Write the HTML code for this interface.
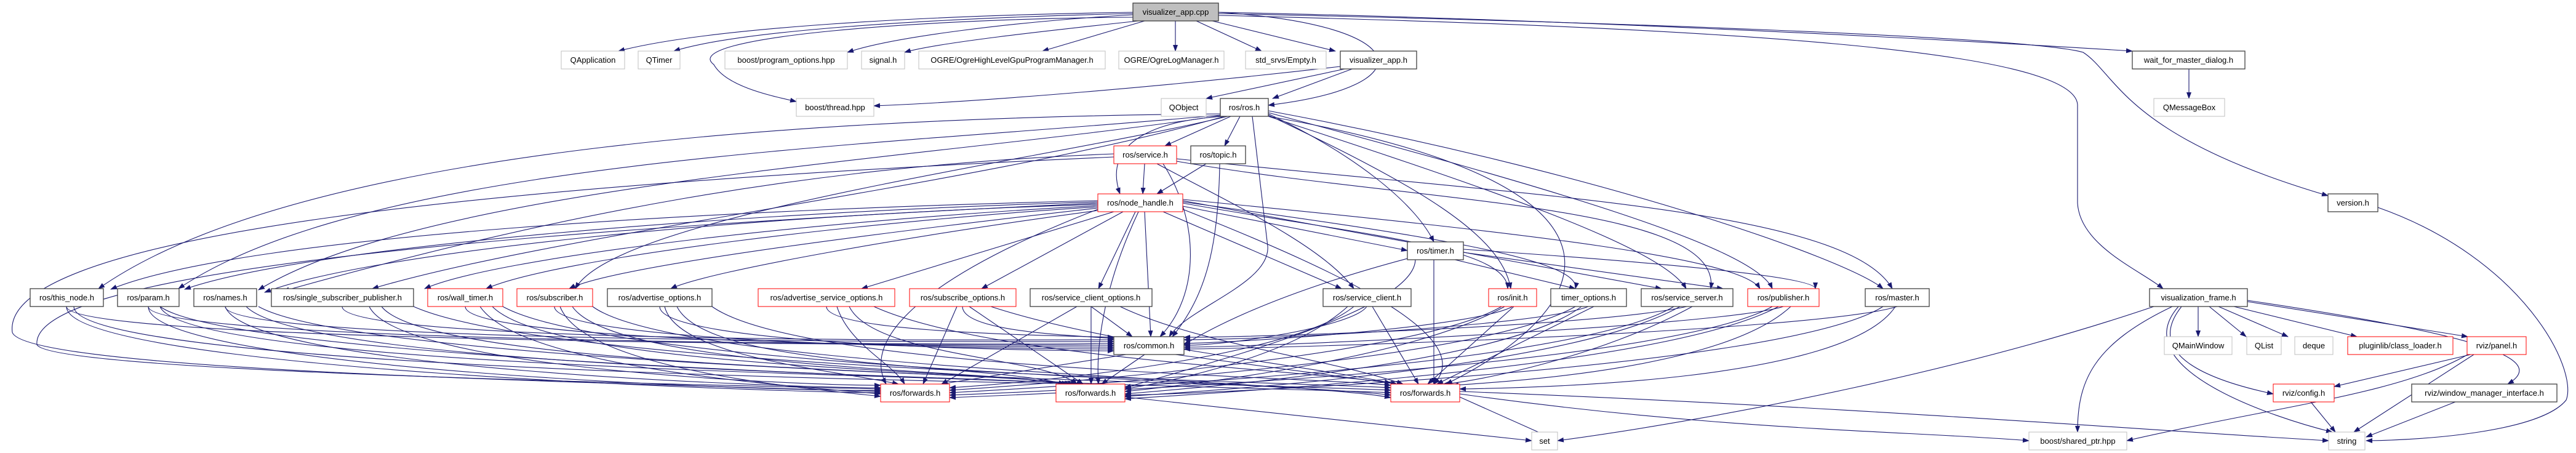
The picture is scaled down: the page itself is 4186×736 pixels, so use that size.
<!DOCTYPE html>
<html><head><meta charset="utf-8"><style>
html,body{margin:0;padding:0;background:#fff}
svg{display:block}
.e{fill:none;stroke:#191970;stroke-width:1.1;marker-end:url(#a)}
.n{fill:#fff;stroke-width:1}
.g{stroke:#bfbfbf}.b{stroke:#404040;stroke-width:1.3}.r{stroke:#ff0000}
.c{fill:#bfbfbf;stroke:#404040;stroke-width:1.3}
text{font-family:"Liberation Sans",sans-serif;font-size:13px;fill:#000}
</style></head><body>
<svg width="4186" height="736" viewBox="0 0 4186 736" xmlns="http://www.w3.org/2000/svg">
<defs><marker id="a" markerUnits="userSpaceOnUse" markerWidth="11" markerHeight="8" refX="10" refY="4" orient="auto"><path d="M0,0 L11,4 L0,8 z" fill="#191970"/></marker></defs>
<g>
<path class="e" d="M1841,20 C1500,25 1150,45 1005,83"/>
<path class="e" d="M1841,22 C1500,30 1200,50 1095,83"/>
<path class="e" d="M1841,24 C1650,35 1450,60 1377,85"/>
<path class="e" d="M1850,34 C1700,50 1520,70 1470,85"/>
<path class="e" d="M1860,34 L1694,83"/>
<path class="e" d="M1910,34 L1910,83"/>
<path class="e" d="M1944,34 L2050,83"/>
<path class="e" d="M1970,34 L2170,83"/>
<path class="e" d="M1841,28 C1500,30 1100,60 1160,105 C1180,140 1250,155 1294,165"/>
<path class="e" d="M1980,20 C2300,40 2320,140 2061,171"/>
<path class="e" d="M1980,20 C2500,30 3100,60 3465,83"/>
<path class="e" d="M1980,22 C2600,35 3300,60 3385,85 C3440,120 3450,220 3783,318"/>
<path class="e" d="M1980,25 C2800,45 3370,80 3376,170 L3376,330 C3380,400 3480,440 3515,469"/>
<path class="e" d="M2178,108 C1900,140 1600,165 1420,172"/>
<path class="e" d="M2190,111 L1960,160"/>
<path class="e" d="M2200,111 L2068,160"/>
<path class="e" d="M3557,111 L3557,160"/>
<path class="e" d="M3864,337 C4100,420 4190,600 4170,650 C4130,700 3950,715 3845,716"/>
<path class="e" d="M2000,189 L1893,237"/>
<path class="e" d="M2015,189 L1990,237"/>
<path class="e" d="M1990,189 C1880,195 1790,230 1820,315"/>
<path class="e" d="M1983,185 C1400,190 500,230 160,469"/>
<path class="e" d="M1983,187 C1400,240 600,260 290,469"/>
<path class="e" d="M1983,188 C1500,260 700,300 420,471"/>
<path class="e" d="M1990,189 C1600,300 900,380 605,469"/>
<path class="e" d="M1995,189 C1700,260 1000,350 935,469"/>
<path class="e" d="M2061,185 C2200,250 2300,330 2330,393"/>
<path class="e" d="M2061,187 C2300,300 2440,380 2455,469"/>
<path class="e" d="M2061,189 C2400,300 2700,400 2740,469"/>
<path class="e" d="M2061,183 C2500,300 2850,400 2880,469"/>
<path class="e" d="M2061,180 C2600,280 3000,420 3060,469"/>
<path class="e" d="M2035,189 L2060,400 C2065,460 1930,500 1900,547"/>
<path class="e" d="M2061,189 C2700,300 2600,500 2350,624"/>
<path class="e" d="M1860,266 L1857,315"/>
<path class="e" d="M1890,266 C1950,360 1950,480 1885,547"/>
<path class="e" d="M1912,262 C2300,330 2800,330 2780,469"/>
<path class="e" d="M1912,258 C2500,320 3000,340 3075,469"/>
<path class="e" d="M1880,266 C2000,330 2150,400 2200,469"/>
<path class="e" d="M1810,250 C1300,270 900,350 460,473"/>
<path class="e" d="M1810,255 C800,300 0,380 20,540 C40,600 900,620 1431,636"/>
<path class="e" d="M1960,266 L1880,315"/>
<path class="e" d="M1982,266 C1980,400 1960,480 1905,547"/>
<path class="e" d="M1784,330 C700,380 50,450 60,560 C80,600 900,620 1431,632"/>
<path class="e" d="M1784,326 C1200,340 400,380 180,470"/>
<path class="e" d="M1784,328 C1200,345 500,400 300,470"/>
<path class="e" d="M1784,332 C1200,350 600,410 430,475"/>
<path class="e" d="M1784,334 C1300,360 800,420 690,469"/>
<path class="e" d="M1784,336 C1400,360 900,420 790,469"/>
<path class="e" d="M1784,338 C1500,370 1000,430 925,469"/>
<path class="e" d="M1784,342 C1500,380 1150,440 1090,469"/>
<path class="e" d="M1810,344 L1400,469"/>
<path class="e" d="M1825,344 L1595,469"/>
<path class="e" d="M1845,344 L1785,469"/>
<path class="e" d="M1860,344 L1870,547"/>
<path class="e" d="M1890,344 L2180,469"/>
<path class="e" d="M1922,335 L2287,407"/>
<path class="e" d="M1922,330 C2200,380 2450,400 2450,469"/>
<path class="e" d="M1922,328 C2300,380 2570,420 2560,469"/>
<path class="e" d="M1922,326 L2700,469"/>
<path class="e" d="M1922,324 C2500,380 2830,420 2860,469"/>
<path class="e" d="M1784,340 C1500,450 1400,550 1440,624"/>
<path class="e" d="M1850,344 C1800,450 1780,550 1785,624"/>
<path class="e" d="M1922,340 C2200,450 2400,550 2330,624"/>
<path class="e" d="M2360,421 L2560,469"/>
<path class="e" d="M2287,420 C2100,470 1990,520 1924,560"/>
<path class="e" d="M2330,421 L2330,624"/>
<path class="e" d="M2300,421 C2300,500 2000,580 1828,630"/>
<path class="e" d="M2378,410 L2800,469"/>
<path class="e" d="M2378,405 C2900,440 2950,460 2950,469"/>
<path class="e" d="M108,498 C108,560 1660,561 1810,561"/>
<path class="e" d="M108,498 C108,600 1280,638 1431,638"/>
<path class="e" d="M120,498 C120,600 1600,620 1760,624"/>
<path class="e" d="M241,498 C241,560 1660,561 1810,558"/>
<path class="e" d="M241,498 C241,600 1280,638 1431,634"/>
<path class="e" d="M260,498 C300,600 1600,610 1760,624"/>
<path class="e" d="M260,498 C400,600 2100,630 2260,638"/>
<path class="e" d="M366,498 C366,560 1660,555 1810,555"/>
<path class="e" d="M366,498 C400,600 1280,630 1431,630"/>
<path class="e" d="M400,498 C500,600 1600,610 1750,624"/>
<path class="e" d="M420,498 C600,600 2100,625 2260,634"/>
<path class="e" d="M556,498 C556,560 1660,552 1810,552"/>
<path class="e" d="M600,498 C650,600 1300,626 1431,626"/>
<path class="e" d="M620,498 C700,600 1600,600 1745,624"/>
<path class="e" d="M672,498 C900,600 2100,620 2260,630"/>
<path class="e" d="M756,498 C756,560 1660,564 1810,564"/>
<path class="e" d="M780,498 C850,600 1300,628 1431,640"/>
<path class="e" d="M800,498 C900,600 1600,600 1740,624"/>
<path class="e" d="M817,498 C1000,600 2100,620 2260,642"/>
<path class="e" d="M901,498 C901,560 1660,567 1810,567"/>
<path class="e" d="M910,498 C950,600 1300,630 1431,644"/>
<path class="e" d="M930,498 C1000,600 1600,600 1735,624"/>
<path class="e" d="M963,498 C1100,600 2100,615 2260,646"/>
<path class="e" d="M1072,498 C1072,560 1660,570 1810,570"/>
<path class="e" d="M1080,498 C1100,580 1350,600 1460,624"/>
<path class="e" d="M1100,498 C1150,600 1600,590 1730,624"/>
<path class="e" d="M1157,498 C1300,600 2100,610 2260,626"/>
<path class="e" d="M1343,498 C1343,540 1700,545 1810,548"/>
<path class="e" d="M1360,498 C1380,560 1450,590 1470,624"/>
<path class="e" d="M1380,498 C1420,580 1700,580 1750,624"/>
<path class="e" d="M1420,498 C1600,580 2100,600 2260,622"/>
<path class="e" d="M1564,498 C1564,540 1750,545 1810,550"/>
<path class="e" d="M1555,498 L1500,624"/>
<path class="e" d="M1575,498 L1760,624"/>
<path class="e" d="M1610,498 C1800,560 2100,590 2270,624"/>
<path class="e" d="M1773,498 L1840,547"/>
<path class="e" d="M1750,498 L1530,624"/>
<path class="e" d="M1773,498 L1773,624"/>
<path class="e" d="M1820,498 C1950,560 2150,580 2280,624"/>
<path class="e" d="M2221,498 C2200,530 2000,561 1924,561"/>
<path class="e" d="M2200,498 C2100,580 1700,620 1543,630"/>
<path class="e" d="M2190,498 C2100,580 1900,620 1828,632"/>
<path class="e" d="M2230,498 L2305,624"/>
<path class="e" d="M2458,498 C2400,530 2050,555 1924,558"/>
<path class="e" d="M2440,498 C2300,580 1700,624 1543,634"/>
<path class="e" d="M2445,498 C2300,580 1950,624 1828,636"/>
<path class="e" d="M2460,498 L2320,624"/>
<path class="e" d="M2581,498 C2500,530 2050,552 1924,552"/>
<path class="e" d="M2560,498 C2400,590 1700,630 1543,638"/>
<path class="e" d="M2570,498 C2450,590 1950,630 1828,640"/>
<path class="e" d="M2590,498 L2335,624"/>
<path class="e" d="M2741,498 C2600,530 2050,548 1924,548"/>
<path class="e" d="M2720,498 C2550,600 1700,636 1543,642"/>
<path class="e" d="M2730,498 C2550,600 1950,636 1828,644"/>
<path class="e" d="M2750,498 C2600,580 2400,620 2345,624"/>
<path class="e" d="M2898,498 C2800,530 2050,564 1924,564"/>
<path class="e" d="M2880,498 C2700,600 1700,640 1543,646"/>
<path class="e" d="M2890,498 C2700,600 1950,640 1828,648"/>
<path class="e" d="M2910,498 C2800,600 2450,620 2360,626"/>
<path class="e" d="M3083,498 C2950,540 2050,567 1924,567"/>
<path class="e" d="M3060,498 C2900,600 1950,640 1828,642"/>
<path class="e" d="M3080,498 C3000,620 2500,630 2372,632"/>
<path class="e" d="M1830,576 L1530,624"/>
<path class="e" d="M1860,576 L1790,624"/>
<path class="e" d="M1910,576 L2270,624"/>
<path class="e" d="M1828,645 L2489,716"/>
<path class="e" d="M2372,645 L2531,716"/>
<path class="e" d="M2372,640 C2800,700 3100,700 3297,716"/>
<path class="e" d="M2372,636 C3000,660 3500,700 3784,716"/>
<path class="e" d="M3500,498 C3200,600 2800,680 2531,716"/>
<path class="e" d="M3530,498 C3400,560 3376,620 3376,702"/>
<path class="e" d="M3540,498 C3450,600 3700,680 3790,702"/>
<path class="e" d="M3545,498 C3480,580 3600,620 3694,640"/>
<path class="e" d="M3572,498 L3572,547"/>
<path class="e" d="M3590,498 L3650,547"/>
<path class="e" d="M3605,498 L3718,547"/>
<path class="e" d="M3630,498 L3830,547"/>
<path class="e" d="M3652,490 L4010,547"/>
<path class="e" d="M3652,488 C4000,540 4150,580 4075,624"/>
<path class="e" d="M4015,576 L3793,628"/>
<path class="e" d="M4010,576 C3900,640 3700,660 3456,716"/>
<path class="e" d="M4020,576 L3825,702"/>
<path class="e" d="M3755,653 L3795,702"/>
<path class="e" d="M3990,653 L3845,710"/>
</g>
<g>
<rect class="c" x="1841" y="5" width="139" height="29"/><text x="1910.5" y="24" text-anchor="middle">visualizer_app.cpp</text>
<rect class="n g" x="912" y="83" width="103" height="29"/><text x="963.5" y="102" text-anchor="middle">QApplication</text>
<rect class="n g" x="1037" y="83" width="68" height="29"/><text x="1071" y="102" text-anchor="middle">QTimer</text>
<rect class="n g" x="1178" y="83" width="199" height="29"/><text x="1277.5" y="102" text-anchor="middle">boost/program_options.hpp</text>
<rect class="n g" x="1400" y="83" width="70" height="29"/><text x="1435" y="102" text-anchor="middle">signal.h</text>
<rect class="n g" x="1493" y="83" width="303" height="29"/><text x="1644.5" y="102" text-anchor="middle">OGRE/OgreHighLevelGpuProgramManager.h</text>
<rect class="n g" x="1818" y="83" width="171" height="29"/><text x="1903.5" y="102" text-anchor="middle">OGRE/OgreLogManager.h</text>
<rect class="n g" x="2024" y="83" width="131" height="29"/><text x="2089.5" y="102" text-anchor="middle">std_srvs/Empty.h</text>
<rect class="n b" x="2178" y="83" width="124" height="29"/><text x="2240" y="102" text-anchor="middle">visualizer_app.h</text>
<rect class="n b" x="3465" y="83" width="183" height="29"/><text x="3556.5" y="102" text-anchor="middle">wait_for_master_dialog.h</text>
<rect class="n g" x="1294" y="160" width="126" height="29"/><text x="1357" y="179" text-anchor="middle">boost/thread.hpp</text>
<rect class="n g" x="1887" y="160" width="73" height="29"/><text x="1923.5" y="179" text-anchor="middle">QObject</text>
<rect class="n b" x="1983" y="160" width="78" height="29"/><text x="2022" y="179" text-anchor="middle">ros/ros.h</text>
<rect class="n g" x="3500" y="160" width="115" height="29"/><text x="3557.5" y="179" text-anchor="middle">QMessageBox</text>
<rect class="n r" x="1810" y="237" width="102" height="29"/><text x="1861" y="256" text-anchor="middle">ros/service.h</text>
<rect class="n b" x="1935" y="237" width="89" height="29"/><text x="1979.5" y="256" text-anchor="middle">ros/topic.h</text>
<rect class="n r" x="1784" y="315" width="138" height="29"/><text x="1853" y="334" text-anchor="middle">ros/node_handle.h</text>
<rect class="n b" x="3783" y="315" width="81" height="29"/><text x="3823.5" y="334" text-anchor="middle">version.h</text>
<rect class="n b" x="2287" y="393" width="91" height="29"/><text x="2332.5" y="412" text-anchor="middle">ros/timer.h</text>
<rect class="n b" x="49" y="469" width="119" height="29"/><text x="108.5" y="488" text-anchor="middle">ros/this_node.h</text>
<rect class="n b" x="191" y="469" width="100" height="29"/><text x="241" y="488" text-anchor="middle">ros/param.h</text>
<rect class="n b" x="315" y="469" width="102" height="29"/><text x="366" y="488" text-anchor="middle">ros/names.h</text>
<rect class="n b" x="441" y="469" width="231" height="29"/><text x="556.5" y="488" text-anchor="middle">ros/single_subscriber_publisher.h</text>
<rect class="n r" x="695" y="469" width="122" height="29"/><text x="756" y="488" text-anchor="middle">ros/wall_timer.h</text>
<rect class="n r" x="840" y="469" width="123" height="29"/><text x="901.5" y="488" text-anchor="middle">ros/subscriber.h</text>
<rect class="n b" x="987" y="469" width="170" height="29"/><text x="1072" y="488" text-anchor="middle">ros/advertise_options.h</text>
<rect class="n r" x="1232" y="469" width="222" height="29"/><text x="1343" y="488" text-anchor="middle">ros/advertise_service_options.h</text>
<rect class="n r" x="1478" y="469" width="173" height="29"/><text x="1564.5" y="488" text-anchor="middle">ros/subscribe_options.h</text>
<rect class="n b" x="1674" y="469" width="198" height="29"/><text x="1773" y="488" text-anchor="middle">ros/service_client_options.h</text>
<rect class="n b" x="2150" y="469" width="143" height="29"/><text x="2221.5" y="488" text-anchor="middle">ros/service_client.h</text>
<rect class="n r" x="2419" y="469" width="78" height="29"/><text x="2458" y="488" text-anchor="middle">ros/init.h</text>
<rect class="n b" x="2520" y="469" width="123" height="29"/><text x="2581.5" y="488" text-anchor="middle">timer_options.h</text>
<rect class="n b" x="2667" y="469" width="149" height="29"/><text x="2741.5" y="488" text-anchor="middle">ros/service_server.h</text>
<rect class="n r" x="2840" y="469" width="116" height="29"/><text x="2898" y="488" text-anchor="middle">ros/publisher.h</text>
<rect class="n b" x="3031" y="469" width="104" height="29"/><text x="3083" y="488" text-anchor="middle">ros/master.h</text>
<rect class="n b" x="3493" y="469" width="159" height="29"/><text x="3572.5" y="488" text-anchor="middle">visualization_frame.h</text>
<rect class="n b" x="1810" y="547" width="114" height="29"/><text x="1867" y="566" text-anchor="middle">ros/common.h</text>
<rect class="n g" x="3517" y="547" width="110" height="29"/><text x="3572" y="566" text-anchor="middle">QMainWindow</text>
<rect class="n g" x="3651" y="547" width="56" height="29"/><text x="3679" y="566" text-anchor="middle">QList</text>
<rect class="n g" x="3729" y="547" width="62" height="29"/><text x="3760" y="566" text-anchor="middle">deque</text>
<rect class="n r" x="3815" y="547" width="171" height="29"/><text x="3900.5" y="566" text-anchor="middle">pluginlib/class_loader.h</text>
<rect class="n r" x="4009" y="547" width="96" height="29"/><text x="4057" y="566" text-anchor="middle">rviz/panel.h</text>
<rect class="n r" x="1431" y="624" width="112" height="29"/><text x="1487" y="643" text-anchor="middle">ros/forwards.h</text>
<rect class="n r" x="1716" y="624" width="112" height="29"/><text x="1772" y="643" text-anchor="middle">ros/forwards.h</text>
<rect class="n r" x="2260" y="624" width="112" height="29"/><text x="2316" y="643" text-anchor="middle">ros/forwards.h</text>
<rect class="n r" x="3694" y="624" width="99" height="29"/><text x="3743.5" y="643" text-anchor="middle">rviz/config.h</text>
<rect class="n b" x="3919" y="624" width="236" height="29"/><text x="4037" y="643" text-anchor="middle">rviz/window_manager_interface.h</text>
<rect class="n g" x="2489" y="702" width="42" height="29"/><text x="2510" y="721" text-anchor="middle">set</text>
<rect class="n g" x="3297" y="702" width="159" height="29"/><text x="3376.5" y="721" text-anchor="middle">boost/shared_ptr.hpp</text>
<rect class="n g" x="3784" y="702" width="59" height="29"/><text x="3813.5" y="721" text-anchor="middle">string</text>
</g>
</svg>
</body></html>
